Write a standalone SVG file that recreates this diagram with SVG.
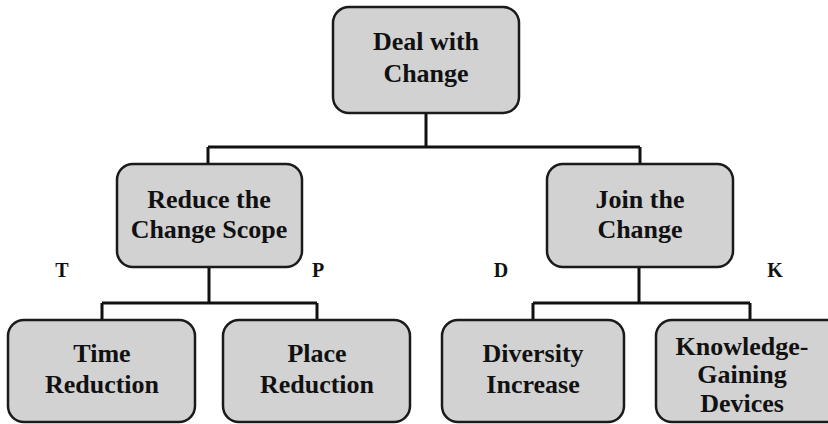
<svg xmlns="http://www.w3.org/2000/svg" width="828" height="424" viewBox="0 0 828 424">
<style>
.box{fill:#d2d2d2;stroke:#1a1a1a;stroke-width:2.5}
.t{font-family:"Liberation Serif","DejaVu Serif","Times New Roman",serif;font-weight:bold;font-size:26px;fill:#111;text-anchor:middle}
.lbl{font-family:"Liberation Serif","DejaVu Serif","Times New Roman",serif;font-weight:bold;font-size:20px;fill:#111;text-anchor:middle}
.c{fill:none;stroke:#111;stroke-width:3}
</style>
<rect width="828" height="424" fill="#fff"/>
<g id="connectors">
<path class="c" d="M426 113V147M208 147H640M208 147V164M640 147V164"/>
<path class="c" d="M209 267V303M102 303H317M102 303V320M317 303V320"/>
<path class="c" d="M639 267V303M533 303H750M533 303V320M750 303V320"/>
</g>
<g id="root"><rect class="box" x="333" y="7" width="186" height="106" rx="16"/>
<text class="t" x="426" y="50">Deal with</text><text class="t" x="426" y="82">Change</text></g>
<g id="reduce"><rect class="box" x="117" y="164" width="185" height="103" rx="16"/>
<text class="t" x="209" y="208">Reduce the</text><text class="t" x="209" y="238">Change Scope</text></g>
<g id="join"><rect class="box" x="547" y="164" width="186" height="103" rx="16"/>
<text class="t" x="640" y="208">Join the</text><text class="t" x="640" y="238">Change</text></g>
<g id="time"><rect class="box" x="8" y="320" width="187" height="102" rx="16"/>
<text class="t" x="102" y="362">Time</text><text class="t" x="102" y="393">Reduction</text></g>
<g id="place"><rect class="box" x="223" y="320" width="187" height="102" rx="16"/>
<text class="t" x="317" y="362">Place</text><text class="t" x="317" y="393">Reduction</text></g>
<g id="diversity"><rect class="box" x="442" y="320" width="182" height="102" rx="16"/>
<text class="t" x="533" y="362">Diversity</text><text class="t" x="533" y="393">Increase</text></g>
<g id="knowledge"><rect class="box" x="656" y="320" width="190" height="102" rx="16"/>
<text class="t" x="742" y="355">Knowledge-</text><text class="t" x="742" y="383">Gaining</text><text class="t" x="742" y="412">Devices</text></g>
<g id="labels">
<text class="lbl" x="62" y="277">T</text>
<text class="lbl" x="318" y="277">P</text>
<text class="lbl" x="501" y="277">D</text>
<text class="lbl" x="775" y="277">K</text>
</g>
</svg>
